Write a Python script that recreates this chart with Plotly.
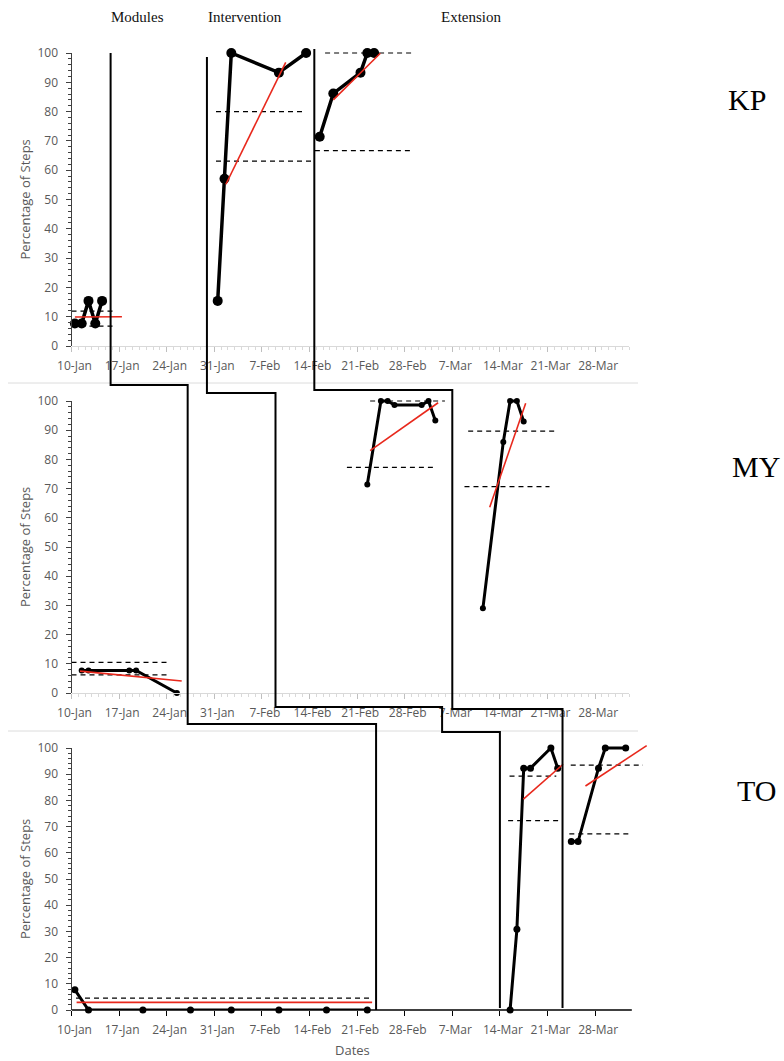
import plotly.graph_objects as go
import pandas as pd

# page is 784x1061; the browser body margin is removed after plotting
W, H = 784, 1061
BODY = 0

# ---------------- data ----------------
week_dates = ["2019-01-10", "2019-01-17", "2019-01-24", "2019-01-31", "2019-02-07", "2019-02-14",
              "2019-02-21", "2019-02-28", "2019-03-07", "2019-03-14", "2019-03-21", "2019-03-28"]
week_labels = ["10-Jan", "17-Jan", "24-Jan", "31-Jan", "7-Feb", "14-Feb",
               "21-Feb", "28-Feb", "7-Mar", "14-Mar", "21-Mar", "28-Mar"]
y_tick_vals = [0, 10, 20, 30, 40, 50, 60, 70, 80, 90, 100]

participants = ["KP", "MY", "TO"]
phase_names = ["Modules", "Intervention", "Extension"]

# KP
kp_base_dates = ["2019-01-10", "2019-01-11", "2019-01-12", "2019-01-13", "2019-01-14"]
kp_base_vals = [7.7, 7.7, 15.4, 7.7, 15.4]
kp_int_dates = ["2019-01-31", "2019-02-01", "2019-02-02", "2019-02-09", "2019-02-13"]
kp_int_vals = [15.4, 57.1, 100, 93.3, 100]
kp_ext_dates = ["2019-02-15", "2019-02-17", "2019-02-21", "2019-02-22", "2019-02-23"]
kp_ext_vals = [71.4, 86.2, 93.3, 100, 100]
kp_criteria = [(["2019-01-10 00:00", "2019-01-16 10:00"], 11.9),
               (["2019-01-10 00:00", "2019-01-16 10:00"], 6.8),
               (["2019-01-31 06:00", "2019-02-13 05:00"], 80.0),
               (["2019-01-31 06:00", "2019-02-14 10:00"], 63.1),
               (["2019-02-16 07:00", "2019-03-01 07:00"], 100.0),
               (["2019-02-14 19:00", "2019-02-28 19:00"], 66.7)]
kp_trends = [(["2019-01-10 12:00", "2019-01-17 10:00"], [9.9, 10.0]),
             (["2019-02-01 17:00", "2019-02-10 12:00"], [55.2, 96.8]),
             (["2019-02-17 12:00", "2019-02-24 10:00"], [84.0, 99.9])]

# MY
my_base_dates = ["2019-01-11", "2019-01-12", "2019-01-18", "2019-01-19", "2019-01-25"]
my_base_vals = [7.7, 7.7, 7.7, 7.7, 0]
my_int_dates = ["2019-02-22", "2019-02-24", "2019-02-25", "2019-02-26", "2019-03-02", "2019-03-03", "2019-03-04"]
my_int_vals = [71.4, 100, 100, 98.6, 98.6, 100, 93.3]
my_ext_dates = ["2019-03-11", "2019-03-14", "2019-03-15", "2019-03-16", "2019-03-17"]
my_ext_vals = [29, 86, 100, 100, 93]
my_criteria = [(["2019-01-10 00:00", "2019-01-24 12:00"], 10.5),
               (["2019-01-10 00:00", "2019-01-24 12:00"], 6.2),
               (["2019-02-22 22:00", "2019-03-05 22:00"], 100.0),
               (["2019-02-19 12:00", "2019-03-04 07:00"], 77.3),
               (["2019-03-09 08:00", "2019-03-22 02:00"], 89.7),
               (["2019-03-08 19:00", "2019-03-21 07:00"], 70.7)]
my_trends = [(["2019-01-11 06:00", "2019-01-26 05:00"], [7.5, 4.1]),
             (["2019-02-22 22:00", "2019-03-04 22:00"], [83.0, 99.4]),
             (["2019-03-12 12:00", "2019-03-17 19:00"], [63.6, 99.2])]

# TO
to_base_dates = ["2019-01-10", "2019-01-12", "2019-01-20", "2019-01-27", "2019-02-02",
                 "2019-02-09", "2019-02-16", "2019-02-22"]
to_base_vals = [7.7, 0, 0, 0, 0, 0, 0, 0]
to_int_dates = ["2019-03-15", "2019-03-16", "2019-03-17", "2019-03-18", "2019-03-21", "2019-03-22"]
to_int_vals = [0, 30.8, 92.3, 92.3, 100, 92.3]
to_ext_dates = ["2019-03-24", "2019-03-25", "2019-03-28", "2019-03-29", "2019-04-01"]
to_ext_vals = [64.3, 64.3, 92.3, 100, 100]
to_criteria = [(["2019-01-10 16:00", "2019-02-23 05:00"], 4.5),
               (["2019-03-15 10:00", "2019-03-22 07:00"], 89.3),
               (["2019-03-15 05:00", "2019-03-23 00:00"], 72.3),
               (["2019-03-24 10:00", "2019-04-04 01:00"], 93.5),
               (["2019-03-24 05:00", "2019-04-02 10:00"], 67.2)]
to_trends = [(["2019-01-10 18:00", "2019-02-23 05:00"], [2.9, 2.9]),
             (["2019-03-17 11:00", "2019-03-23 07:00"], [80.5, 93.8]),
             (["2019-03-26 14:00", "2019-04-04 14:00"], [85.5, 100.9])]

# phase-change dates (per panel, top to bottom); Intervention line has a jog between MY and TO
phase_modules_dates = ["2019-01-15 18:00", "2019-01-27 02:00", "2019-02-23 19:00"]
phase_intervention_dates = ["2019-01-29 22:00", "2019-02-09 00:00", "2019-03-05 12:00", "2019-03-14 00:00"]
phase_extension_dates = ["2019-02-14 17:00", "2019-03-07 00:00", "2019-03-23 05:00"]

# ---------------- layout geometry (page pixels) ----------------
def px_x(p):
    return (p - BODY) / W

def px_y(p):
    return 1 - (p - BODY) / H

X0_PX = 71.5
PX_PER_DAY = 6.8
panel_geo = [  # bottom(0) px, top(100) px
    dict(bottom=346, top100=53, marker=10, lw=3.5),
    dict(bottom=693, top100=401, marker=6, lw=3),
    dict(bottom=1010, top100=748, marker=7, lw=3),
]
range_end_days = [82, 82, 85.5]
x_start = pd.Timestamp("2019-01-10")

series = [
    [(kp_base_dates, kp_base_vals), (kp_int_dates, kp_int_vals), (kp_ext_dates, kp_ext_vals)],
    [(my_base_dates, my_base_vals), (my_int_dates, my_int_vals), (my_ext_dates, my_ext_vals)],
    [(to_base_dates, to_base_vals), (to_int_dates, to_int_vals), (to_ext_dates, to_ext_vals)],
]
criteria = [kp_criteria, my_criteria, to_criteria]
trends = [kp_trends, my_trends, to_trends]

RED = "#e8281c"
TICKFONT = dict(family="Open Sans", size=12, color="#595959")

fig = go.Figure()
layout = dict(width=W, height=H, margin=dict(l=0, r=0, t=0, b=0, pad=0, autoexpand=False),
              paper_bgcolor="white", plot_bgcolor="rgba(0,0,0,0)", showlegend=False,
              template="none", hovermode=False)
shapes = []
annotations = []

for i, geo in enumerate(panel_geo):
    n = "" if i == 0 else str(i + 1)
    xa, ya = "x" + n, "y" + n
    s = (geo["bottom"] - geo["top100"]) / 100.0
    top102 = geo["bottom"] - 102 * s
    end_days = range_end_days[i]
    x_end = x_start + pd.Timedelta(days=end_days)
    right_px = X0_PX + end_days * PX_PER_DAY

    # data series
    for dates, vals in series[i]:
        fig.add_trace(go.Scatter(
            x=pd.to_datetime(dates) + pd.Timedelta(hours=12), y=vals,
            mode="lines+markers", xaxis=xa, yaxis=ya, cliponaxis=False,
            line=dict(color="black", width=geo["lw"]),
            marker=dict(color="black", size=geo["marker"]), hoverinfo="skip"))
    # criterion (dashed) lines
    for xs, yv in criteria[i]:
        fig.add_trace(go.Scatter(
            x=pd.to_datetime(xs), y=[yv, yv], mode="lines", xaxis=xa, yaxis=ya,
            line=dict(color="black", width=1.2, dash="5px,4px"), hoverinfo="skip"))
    # trend lines
    for xs, ys in trends[i]:
        fig.add_trace(go.Scatter(
            x=pd.to_datetime(xs), y=ys, mode="lines", xaxis=xa, yaxis=ya,
            line=dict(color=RED, width=1.6), hoverinfo="skip"))

    is_last = i == 2
    xaxis = dict(
        domain=[px_x(X0_PX), px_x(right_px)], anchor=ya, type="date", automargin=False,
        range=[x_start, x_end], tickmode="array", tickvals=week_dates, ticktext=week_labels,
        ticks="outside", ticklen=5, tickcolor="black" if is_last else "#bfbfbf",
        showline=not is_last, linecolor="#d9d9d9", linewidth=1,
        showgrid=False, zeroline=False, tickfont=TICKFONT,
        ticklabelshift=3, ticklabelstandoff=4,
    )
    if not is_last:
        xaxis["minor"] = dict(tickmode="linear", tick0="2019-01-10", dtick=86400000,
                              ticks="outside", ticklen=3, tickcolor="#d9d9d9", showgrid=False)
    layout["xaxis" + n] = xaxis
    layout["yaxis" + n] = dict(
        domain=[px_y(geo["bottom"]), px_y(top102)], anchor=xa, range=[0, 102], automargin=False,
        tickmode="array", tickvals=y_tick_vals, ticks="outside", ticklen=5, tickcolor="#404040",
        showline=False, showgrid=False, zeroline=False, tickfont=TICKFONT, ticklabelstandoff=5,
        minor=dict(tickmode="array", tickvals=list(range(0, 101, 2)), ticks="outside",
                   ticklen=3, tickcolor="#404040", showgrid=False),
    )
    # y axis line 0..100
    shapes.append(dict(type="line", xref=xa + " domain", x0=0, x1=0, yref=ya, y0=0, y1=100,
                       line=dict(color="#404040", width=1)))
    if is_last:
        shapes.append(dict(type="line", xref=xa, x0=x_start, x1=x_start + pd.Timedelta(days=82.4),
                           yref=ya + " domain", y0=0, y1=0, line=dict(color="black", width=1.3)))
    # y axis title
    annotations.append(dict(text="Percentage of Steps", x=px_x(25), y=px_y((geo["bottom"] + geo["top100"]) / 2),
                            xref="paper", yref="paper", textangle=-90, showarrow=False,
                            xanchor="center", yanchor="middle",
                            font=dict(family="Open Sans", size=13, color="#595959")))

# participant labels
for name, (lx, ly) in zip(participants, [(747, 100), (756, 466), (756, 790)]):
    annotations.append(dict(text=name, x=px_x(lx), y=px_y(ly), xref="paper", yref="paper",
                            showarrow=False, xanchor="center", yanchor="middle",
                            font=dict(family="Liberation Serif", size=30, color="black")))
# phase titles
for name, lx in zip(phase_names, [137, 245, 471]):
    annotations.append(dict(text=name, x=px_x(lx), y=px_y(17), xref="paper", yref="paper",
                            showarrow=False, xanchor="center", yanchor="middle",
                            font=dict(family="Liberation Serif", size=15, color="#111")))
annotations.append(dict(text="Dates", x=px_x(352), y=px_y(1050), xref="paper", yref="paper",
                        showarrow=False, xanchor="center", yanchor="middle",
                        font=dict(family="Open Sans", size=13, color="#595959")))

# faint chart-area borders between panels
for by in [383, 731]:
    shapes.append(dict(type="line", xref="paper", yref="paper", x0=px_x(8), x1=px_x(638),
                       y0=px_y(by), y1=px_y(by), line=dict(color="#dcdcdc", width=1)))

# staircase phase-change lines
def stair(dates, levels):
    d = [str(pd.Timestamp(t)).replace(" ", "_") for t in dates]
    path = f"M{d[0]},{px_y(levels[0])}"
    for k in range(len(d)):
        path += f" L{d[k]},{px_y(levels[k + 1])}"
        if k + 1 < len(d):
            path += f" L{d[k + 1]},{px_y(levels[k + 1])}"
    return dict(type="path", xref="x", yref="paper", path=path,
                line=dict(color="black", width=2))

shapes.append(stair(phase_modules_dates, [53, 385, 724, 1010]))
shapes.append(stair(phase_intervention_dates, [57, 393, 707, 732, 1008]))
shapes.append(stair(phase_extension_dates, [49, 390, 709, 1008]))

layout["shapes"] = shapes
layout["annotations"] = annotations
fig.update_layout(**layout)
fig.write_html("out.html", config={"displayModeBar": False, "staticPlot": True},
               post_script="document.body.style.margin='0';document.body.style.overflow='hidden';")
